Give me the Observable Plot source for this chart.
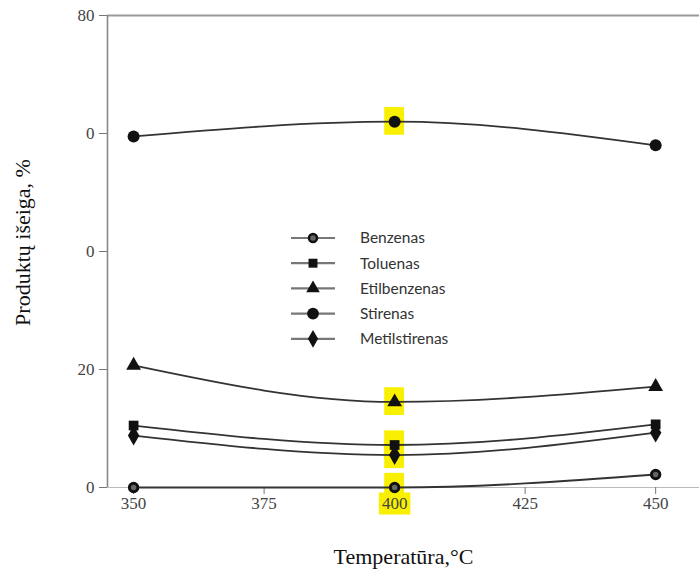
<!DOCTYPE html>
<html><head><meta charset="utf-8">
<script src="https://cdn.jsdelivr.net/npm/d3@7"></script>
<script src="https://cdn.jsdelivr.net/npm/@observablehq/plot@0.6"></script>
<style>
body{margin:0;background:#fff}
#chart{position:relative;width:699px;height:575px}
</style>
</head><body><div id="chart"></div>
<script>
const temperatures = [350, 400, 450];
const seriesNames = ["Benzenas", "Toluenas", "Etilbenzenas", "Stirenas", "Metilstirenas"];
const seriesSymbols = ["circle", "square", "triangle", "circle", "diamond"];
const benzenas = [0, 0, 2.2];
const toluenas = [10.5, 7.2, 10.7];
const etilbenzenas = [20.7, 14.5, 17.1];
const stirenas = [59.5, 62.0, 58.0];
const metilstirenas = [8.8, 5.5, 9.3];
const yTicks = [0, 20, 40, 60, 80];
const yTickLabels = ["0", "20", "0", "0", "80"];
const xTicks = [350, 375, 400, 425, 450];
const highlightT = 400;

const values = [benzenas, toluenas, etilbenzenas, stirenas, metilstirenas];
const data = [];
seriesNames.forEach((s, i) => temperatures.forEach((t, j) => data.push({s, t, v: values[i][j]})));
const hl = data.filter(d => d.t === highlightT);

const serif = "Liberation Serif";

const plot = Plot.plot({
  width: 699, height: 575,
  marginLeft: 107, marginTop: 15, marginBottom: 88, marginRight: 0,
  style: {background: "#fff", overflow: "visible"},
  x: {domain: [345, 458.4], ticks: xTicks, label: null},
  y: {domain: [0, 80], ticks: yTicks, label: null},
  marks: [
    Plot.rect(hl, {x1: d => d.t - 1.9, x2: d => d.t + 1.9, y1: d => d.v - 2.3, y2: d => d.v + 2.4, fill: "#f8f000"}),
    Plot.ruleY([80], {stroke: "#999", strokeWidth: 2}),
    Plot.ruleY([0], {stroke: "#bbb", strokeWidth: 1.2}),
    Plot.ruleX([345], {stroke: "#888", strokeWidth: 1.6}),
    Plot.axisY({ticks: yTicks, tickFormat: () => "", tickSize: 8, stroke: "#777"}),
    Plot.axisX({ticks: xTicks, tickFormat: () => "", tickSize: 7, stroke: "#777"}),
    Plot.text(yTicks, {y: d => d, text: (d, i) => yTickLabels[i], frameAnchor: "left", textAnchor: "end", dx: -13, fontSize: 17, fontFamily: serif, fill: "#444"}),
    Plot.text(xTicks, {x: d => d, text: d => String(d), frameAnchor: "bottom", dy: 21, fontSize: 17, fontFamily: serif, fill: "#444"}),
    Plot.line(data, {x: "t", y: "v", z: "s", curve: "monotone-x", stroke: "#333", strokeWidth: 1.8}),
    Plot.dot(data.filter(d => d.s === "Benzenas"), {x: "t", y: "v", symbol: "circle", r: 4.2, fill: "#666", stroke: "#111", strokeWidth: 3}),
    Plot.dot(data.filter(d => d.s === "Stirenas"), {x: "t", y: "v", symbol: "circle", r: 6, fill: "#111"}),
    Plot.dot(data.filter(d => d.s === "Toluenas"), {x: "t", y: "v", symbol: "square", r: 5.5, fill: "#111"}),
    Plot.dot(data.filter(d => d.s === "Etilbenzenas"), {x: "t", y: "v", symbol: "triangle", r: 5.5, fill: "#111"}),
    Plot.dot(data.filter(d => d.s === "Metilstirenas"), {x: "t", y: "v", symbol: "diamond", r: 6, fill: "#111"}),
    Plot.text(["Temperatūra,°C"], {frameAnchor: "bottom", dy: 76, fontSize: 22, fill: "#111", fontFamily: serif}),
    Plot.text(["Produktų išeiga, %"], {frameAnchor: "left", textAnchor: "middle", dx: -85, dy: -9, rotate: -90, fontSize: 22, fill: "#111", fontFamily: serif})
  ]
});
document.getElementById("chart").appendChild(plot);

const svg = d3.select(plot);

// highlight the 400 tick label
svg.selectAll("text").each(function() {
  if (this.textContent === String(highlightT)) {
    const b = this.getBBox();
    const tr = this.getAttribute("transform");
    d3.select(this.parentNode).insert("rect", () => this)
      .attr("transform", tr)
      .attr("x", b.x - 3).attr("y", b.y - 1).attr("width", b.width + 6).attr("height", b.height + 3)
      .attr("fill", "#f8f000");
  }
});

// legend (inside plot)
const sym = {circle: d3.symbolCircle, square: d3.symbolSquare, triangle: d3.symbolTriangle, diamond: d3.symbolDiamond};
const lg = svg.append("g").attr("transform", "translate(291,238)");
seriesNames.forEach((name, i) => {
  const g = lg.append("g").attr("transform", `translate(0,${i * 25.2})`);
  g.append("line").attr("x1", 0).attr("x2", 44).attr("y1", 0).attr("y2", 0).attr("stroke", "#777").attr("stroke-width", 2.2);
  const isBenz = i === 0;
  const size = [50, 80, 80, 110, 90][i];
  g.append("path").attr("transform", "translate(22,0)")
    .attr("d", d3.symbol(sym[seriesSymbols[i]], size)())
    .attr("fill", isBenz ? "#666" : "#111").attr("stroke", "#111").attr("stroke-width", isBenz ? 2.5 : 0);
  g.append("text").attr("x", 69).attr("y", 0).attr("dy", "0.35em").attr("text-anchor", "start")
    .attr("font-family", "Lato, 'Open Sans', sans-serif").attr("font-size", 15.5).attr("fill", "#333").text(name);
});
</script>
</body></html>
